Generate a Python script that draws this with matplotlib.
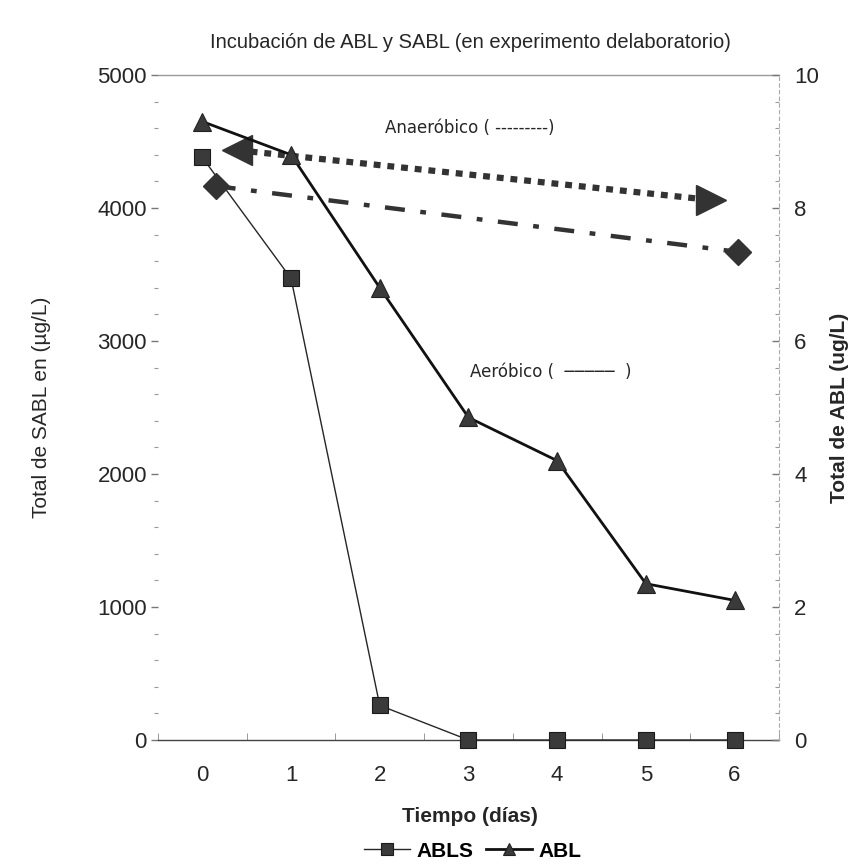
import matplotlib.pyplot as plt
from matplotlib.ticker import MultipleLocator

plt.rcParams['font.family'] = ['Liberation Sans', 'DejaVu Sans']

# ---- data ----
days = [0, 1, 2, 3, 4, 5, 6]
abls = [4380, 3470, 260, 0, 0, 0, 0]          # ug/L, left axis
abl = [9.3, 8.8, 6.8, 4.85, 4.2, 2.35, 2.1]   # ug/L, right axis

# trend guides (in ABL units)
anaer_x = [0.39, 5.74]
anaer_y = [8.87, 8.12]
aer_x = [0.15, 6.04]
aer_y = [8.33, 7.34]

ink = '#262626'

fig = plt.figure(figsize=(8.55, 8.65), dpi=100)
ax = fig.add_axes([0.1848, 0.1445, 0.7262, 0.7688])
ax2 = ax.twinx()

# ABLS on the left axis
ax.plot(days, abls, color=ink, lw=1.0, marker='s', ms=11.5,
        mfc='#3a3a3a', mec='#1a1a1a', mew=0.8, label='ABLS', zorder=3,
        clip_on=False)

# ABL on the right axis
ax2.plot(days, abl, color='#111111', lw=2.0, marker='^', ms=12.5,
         mfc='#3a3a3a', mec='#222222', mew=0.8, label='ABL', zorder=4,
         clip_on=False)

# anaerobic guide: dotted with triangle heads
ax2.plot(anaer_x, anaer_y, color='#333333', lw=4.5, ls=(0, (1.1, 1.1)),
         dash_capstyle='butt', zorder=2)
ax2.plot(anaer_x[0], anaer_y[0], marker='<', ms=21, color='#333333', zorder=2)
ax2.plot(anaer_x[1], anaer_y[1], marker='>', ms=21, color='#333333', zorder=2)

# aerobic guide: dash-dot with diamond ends
ax2.plot(aer_x, aer_y, color='#333333', lw=3.2, ls=(0, (4.5, 3.5, 1.3, 3.5)),
         dash_capstyle='butt', zorder=2)
ax2.plot(aer_x, aer_y, ls='none', marker='D', ms=13, color='#333333', zorder=2)

note_font = ['DejaVu Sans']
ax2.text(2.06, 9.2, 'Anaeróbico ( ---------)', fontsize=12,
         family=note_font, color=ink, va='center')
ax2.text(3.02, 5.53, 'Aeróbico (  ─────  )', fontsize=12,
         family=note_font, color=ink, va='center')

# axes
ax.set_xlim(-0.5, 6.5)
ax.set_ylim(0, 5000)
ax2.set_ylim(0, 10)

ax.set_xticks(days)
ax.xaxis.set_minor_locator(MultipleLocator(1, offset=0.5))
ax.tick_params(axis='x', which='major', length=0, pad=18, labelsize=16, labelcolor=ink)
ax.tick_params(axis='x', which='minor', direction='in', length=5, color='#888888')

ax.yaxis.set_major_locator(MultipleLocator(1000))
ax.yaxis.set_minor_locator(MultipleLocator(200))
ax.tick_params(axis='y', which='major', direction='out', length=5, width=1,
               color='#777777', pad=3, labelsize=16, labelcolor=ink)
ax.tick_params(axis='y', which='minor', direction='out', length=3, width=0.8,
               color='#999999')

ax2.yaxis.set_major_locator(MultipleLocator(2))
ax2.yaxis.set_minor_locator(MultipleLocator(0.4))
ax2.tick_params(axis='y', which='major', direction='in', length=5, width=1,
                color='#777777', pad=11, labelsize=16, labelcolor=ink)
ax2.tick_params(axis='y', which='minor', direction='in', length=3, width=0.8,
                color='#999999')

for s in ('left', 'right'):
    ax.spines[s].set_visible(False)
for s in ('left', 'top', 'bottom'):
    ax2.spines[s].set_visible(False)
ax.spines['top'].set_color('#999999')
ax.spines['top'].set_linewidth(1.0)
ax.spines['bottom'].set_color('#444444')
ax.spines['bottom'].set_linewidth(1.0)
ax2.spines['right'].set_color('#aaaaaa')
ax2.spines['right'].set_linestyle((0, (3, 3)))
ax2.spines['right'].set_linewidth(0.8)

ax.set_ylabel('Total de SABL en (µg/L)', fontsize=15, color=ink)
ax.yaxis.set_label_coords(-0.172, 0.5)
ax2.set_ylabel('Total de ABL (ug/L)', fontsize=15, fontweight='bold',
               color=ink, rotation=90)
ax2.yaxis.set_label_coords(1.082, 0.5)
ax.set_xlabel('Tiempo (días)', fontsize=15, fontweight='bold', color=ink)
ax.xaxis.set_label_coords(0.502, -0.10)

fig.text(0.55, 0.951, 'Incubación de ABL y SABL (en experimento delaboratorio)',
         ha='center', va='center', fontsize=14.5, color=ink,
         family=['Liberation Sans Narrow', 'Liberation Sans'])

h1, l1 = ax.get_legend_handles_labels()
h2, l2 = ax2.get_legend_handles_labels()
fig.legend(h1 + h2, l1 + l2, loc='center', bbox_to_anchor=(0.553, 0.016),
           ncol=2, frameon=False, markerscale=0.7, handlelength=2.2,
           handletextpad=0.3, columnspacing=0.6,
           prop={'size': 15, 'weight': 'bold'})

fig.savefig('out.png', dpi=100)
